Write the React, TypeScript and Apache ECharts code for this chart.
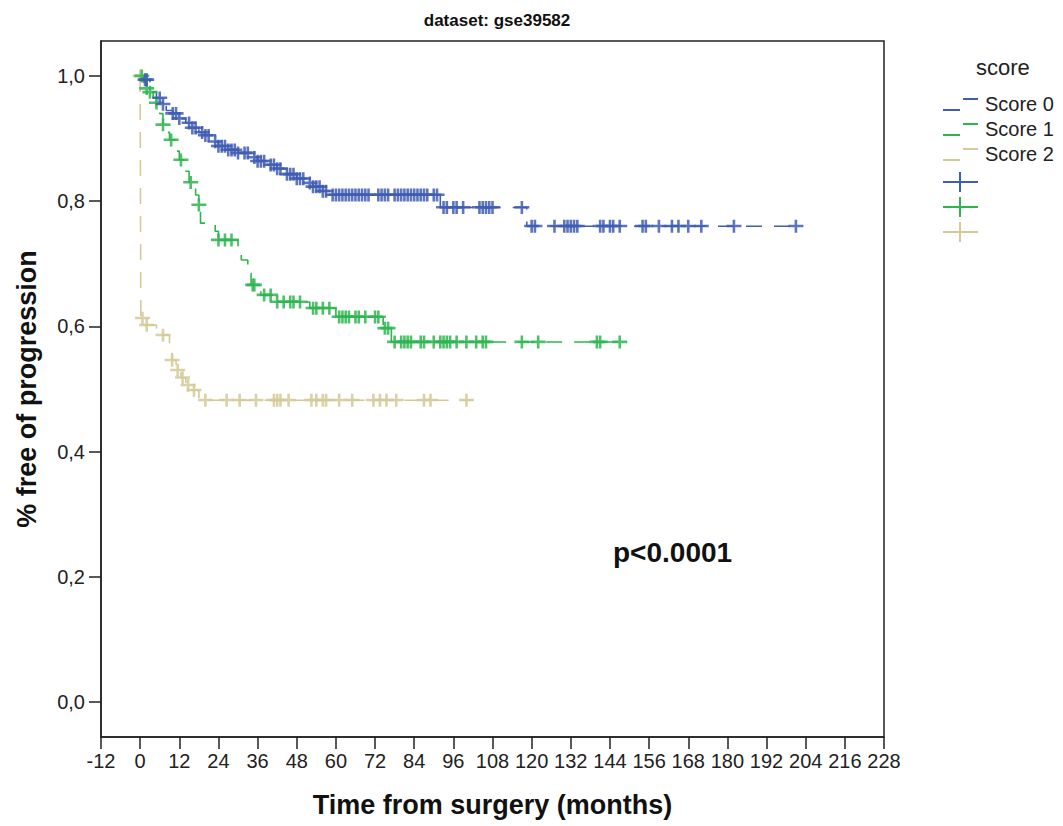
import React, { useEffect, useRef } from "react";
import * as echarts from "echarts";

// ---- data ----
const xTicks = [-12, 0, 12, 24, 36, 48, 60, 72, 84, 96, 108, 120, 132, 144, 156, 168, 180, 192, 204, 216, 228];
const yTicks = [0, 0.2, 0.4, 0.6, 0.8, 1.0];

const score0Times = [0, 1, 3, 4, 5, 7, 8, 10, 12, 14, 16, 18, 20, 22, 24, 27, 30, 34, 36, 39, 42, 45, 48, 51, 53, 56, 58, 92, 118.5];
const score0Surv = [1.0, 0.994, 0.985, 0.975, 0.965, 0.955, 0.945, 0.94, 0.932, 0.925, 0.917, 0.91, 0.905, 0.895, 0.888, 0.882, 0.877, 0.87, 0.864, 0.858, 0.852, 0.843, 0.836, 0.829, 0.823, 0.816, 0.81, 0.79, 0.76];
const score0End = 201;
const score0Censor = [1.5, 2, 6, 7, 10, 11, 12, 15, 16, 17, 19, 20, 21, 23, 24, 25, 26, 27, 28, 29, 30, 32, 33, 35, 36, 37, 38, 40, 41, 42, 43, 45, 46, 47, 48, 49, 50, 52, 53, 54, 55, 56, 57, 59, 60, 61, 62, 63, 64, 65, 66, 67, 68, 69, 70, 73, 74, 75, 76, 78, 79, 80, 81, 82, 83, 84, 85, 86, 87, 88, 90, 91, 93, 94, 96, 97, 99, 104, 105, 106, 107, 108, 117, 120, 121, 127, 130, 131, 132, 133, 134, 141, 142, 144, 145, 147, 154, 155, 159, 163, 165, 168, 172, 182, 201];

const score1Times = [0, 1, 2, 3, 4, 5, 6, 7, 8, 9, 11, 12, 14, 15, 17, 18, 18.5, 23, 24, 30, 31, 33, 34, 37, 41, 52, 60, 74.5, 77];
const score1Surv = [1.0, 0.99, 0.98, 0.974, 0.965, 0.957, 0.94, 0.922, 0.91, 0.898, 0.88, 0.866, 0.848, 0.83, 0.81, 0.794, 0.765, 0.752, 0.738, 0.72, 0.706, 0.685, 0.666, 0.65, 0.639, 0.629, 0.615, 0.597, 0.575];
const score1End = 148.5;
const score1Censor = [0.5, 2, 3, 5, 7, 9.5, 12.5, 15.5, 18, 24, 26, 28, 34.5, 35, 38, 40, 42, 44, 46, 47, 49, 53, 54, 56, 58, 61, 62, 63, 64, 66, 67, 69, 72, 73, 75, 76, 78, 80, 81, 82, 83, 86, 87, 90, 92, 93, 94, 95, 97, 100, 103, 105, 106, 117, 122, 140, 141, 147];

const score2Times = [0, 0.2, 1.5, 5, 9, 9.8, 11, 12.5, 14, 15.5, 18];
const score2Surv = [1.0, 0.613, 0.602, 0.586, 0.562, 0.546, 0.53, 0.518, 0.506, 0.498, 0.482];
const score2End = 102;
const score2Censor = [0, 0.7, 2, 7, 9.8, 11.5, 13, 14.7, 16.5, 20, 26.5, 30.5, 35.5, 41, 42, 43, 45.5, 52.5, 54, 56, 57, 61, 65, 71.5, 73.5, 75.5, 78.5, 87, 89, 100];

const groupNames = ["Score 0", "Score 1", "Score 2"];
const groupColors = ["#3f5db3", "#2fb550", "#d3ca98"];

const FONT = '"Liberation Sans", Arial, Helvetica, sans-serif';
const PLUS = "path://M0,5H15V7.6H0Z M6.2,0H8.8V13H6.2Z";

function survAt(times: number[], surv: number[], t: number) {
  let v = surv[0];
  for (let i = 0; i < times.length; i++) if (times[i] <= t) v = surv[i];
  return v;
}

function curveData(times: number[], surv: number[], end: number) {
  const d = times.map((t, i) => [t, surv[i]]);
  d.push([end, surv[surv.length - 1]]);
  return d;
}

export default function App() {
  const ref = useRef<HTMLDivElement>(null);
  useEffect(() => {
    if (!ref.current) return;
    const chart = echarts.init(ref.current, null, { renderer: "svg" });
    const groups = [
      { t: score0Times, s: score0Surv, e: score0End, c: score0Censor },
      { t: score1Times, s: score1Surv, e: score1End, c: score1Censor },
      { t: score2Times, s: score2Surv, e: score2End, c: score2Censor },
    ];
    const series: any[] = [];
    [2, 1, 0].forEach((gi) => {
      const g = groups[gi];
      series.push({
        type: "line",
        name: groupNames[gi],
        step: "end",
        showSymbol: false,
        data: curveData(g.t, g.s, g.e),
        lineStyle: { color: groupColors[gi], width: 1.6, type: [16, 12] },
        z: 2,
      });
      series.push({
        type: "scatter",
        name: groupNames[gi] + " censored",
        symbol: PLUS,
        symbolSize: [15, 13],
        data: g.c.map((t) => [t, survAt(g.t, g.s, t)]),
        itemStyle: { color: groupColors[gi], opacity: 0.85 },
        z: 3,
      });
    });

    const legendGraphics: any[] = [
      {
        type: "text",
        left: 976,
        top: 56,
        style: { text: "score", font: `22px ${FONT}`, fill: "#222" },
      },
    ];
    const legY = [105, 130, 155];
    legY.forEach((y, i) => {
      legendGraphics.push(
        { type: "line", shape: { x1: 943, y1: y + 5, x2: 960, y2: y + 5 }, style: { stroke: groupColors[i], lineWidth: 2 } },
        { type: "line", shape: { x1: 963, y1: y - 6, x2: 978, y2: y - 6 }, style: { stroke: groupColors[i], lineWidth: 2 } },
        { type: "text", left: 985, top: y - 11, style: { text: groupNames[i], font: `20px ${FONT}`, fill: "#222" } }
      );
    });
    const plusY = [182, 207, 232];
    plusY.forEach((y, i) => {
      legendGraphics.push(
        { type: "line", shape: { x1: 943, y1: y, x2: 978, y2: y }, style: { stroke: groupColors[i], lineWidth: 2 } },
        { type: "line", shape: { x1: 960, y1: y - 10, x2: 960, y2: y + 10 }, style: { stroke: groupColors[i], lineWidth: 2 } }
      );
    });

    chart.setOption({
      animation: false,
      backgroundColor: "#ffffff",
      title: {
        text: "dataset: gse39582",
        left: 492,
        top: 7,
        textAlign: "center",
        textStyle: { fontSize: 17, fontWeight: "bold", color: "#111", fontFamily: FONT },
      },
      grid: {
        left: 101,
        top: 41,
        right: 179,
        bottom: 89,
        show: true,
        borderColor: "#222",
        borderWidth: 1.5,
        backgroundColor: "#ffffff",
      },
      xAxis: {
        type: "value",
        min: -12,
        max: 228,
        interval: 12,
        name: "Time from surgery (months)",
        nameLocation: "middle",
        nameGap: 54,
        nameTextStyle: { fontSize: 27, fontWeight: "bold", color: "#111", fontFamily: FONT },
        axisLine: { show: true, onZero: false, lineStyle: { color: "#222", width: 1.5 } },
        axisTick: { show: true, inside: false, length: 12, lineStyle: { color: "#222", width: 1.5 } },
        axisLabel: { margin: 14, fontSize: 20, color: "#222", fontFamily: FONT, customValues: xTicks },
        splitLine: { show: false },
      },
      yAxis: {
        type: "value",
        min: -0.056,
        max: 1.056,
        name: "% free of progression",
        nameLocation: "middle",
        nameRotate: 90,
        nameGap: 61,
        nameTextStyle: { fontSize: 27, fontWeight: "bold", color: "#111", fontFamily: FONT },
        axisLine: { show: true, onZero: false, lineStyle: { color: "#222", width: 1.5 } },
        axisTick: { show: true, inside: false, length: 12, customValues: yTicks, lineStyle: { color: "#222", width: 1.5 } },
        axisLabel: {
          margin: 16,
          fontSize: 20,
          color: "#222",
          fontFamily: FONT,
          customValues: yTicks,
          formatter: (v: number) => v.toFixed(1).replace(".", ","),
        },
        splitLine: { show: false },
      },
      graphic: [
        {
          type: "text",
          left: 613,
          top: 538,
          style: { text: "p<0.0001", font: `bold 28px ${FONT}`, fill: "#111" },
        },
        ...legendGraphics,
      ],
      series,
    });
    return () => chart.dispose();
  }, []);
  return (
    <div
      ref={ref}
      style={{ position: "fixed", left: 0, top: 0, width: 1063, height: 826, background: "#fff" }}
    />
  );
}
